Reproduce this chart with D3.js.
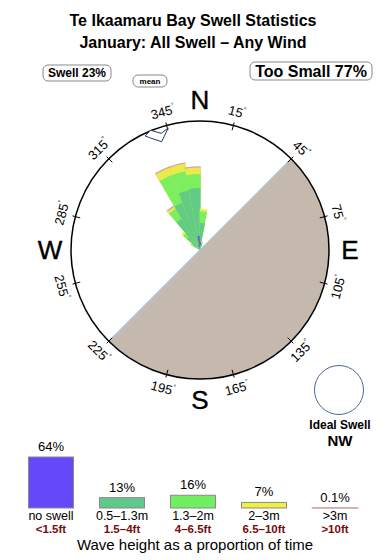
<!DOCTYPE html>
<html>
<head>
<meta charset="utf-8">
<script src="https://cdn.jsdelivr.net/npm/d3@7"></script>
<style>
  body { margin: 0; background: #fff; }
  svg { font-family: "Liberation Sans", Arial, Helvetica, sans-serif; }
</style>
</head>
<body>
<div id="chart"></div>
<script>
// rose sectors (centre direction, degrees)
const directions = [305, 315, 325, 335, 345, 355, 5, 15];
// percent of time per band, per direction
const noSwell = [0, 0, 0, 0, 0.4, 1.1, 0.6, 0];
const band1 = [0.6, 1.3, 2.8, 3.9, 4.3, 3.7, 1.5, 0.4];   // 0.5-1.3m
const band2 = [0.2, 0.4, 0.9, 2.3, 1.5, 1.1, 0.9, 0.2];   // 1.3-2m
const band3 = [0.1, 0.2, 0.2, 0.6, 0.6, 0.5, 0.2, 0.1];   // 2-3m
const band4 = [0, 0, 0.1, 0.1, 0.1, 0.1, 0, 0];           // >3m

const tickAngles = [15, 45, 75, 105, 135, 165, 195, 225, 255, 285, 315, 345];
const compass = ['N', 'E', 'S', 'W'];
const compassAngles = [0, 90, 180, 270];

const legendLabels = ['no swell', '0.5\u20131.3m', '1.3\u20132m', '2\u20133m', '>3m'];
const legendFeet = ['<1.5ft', '1.5\u20134ft', '4\u20136.5ft', '6.5\u201310ft', '>10ft'];
const legendPct = [64, 13, 16, 7, 0.1];
const legendText = ['64%', '13%', '16%', '7%', '0.1%'];

const colors = ['#6548fa', '#5fc88a', '#70f060', '#f0f040', '#c9a0a0'];

const W = 390, H = 560;
const cx = 200, cy = 250, R = 129;
const rad = d => d * Math.PI / 180;
const px = (a, r) => cx + r * Math.sin(rad(a));
const py = (a, r) => cy - r * Math.cos(rad(a));

const svg = d3.select('#chart').append('svg')
  .attr('width', W)
  .attr('height', H);

// titles
svg.append('text')
  .attr('x', 193).attr('y', 26)
  .attr('text-anchor', 'middle')
  .attr('font-size', 16).attr('font-weight', 'bold')
  .text('Te Ikaamaru Bay Swell Statistics');
svg.append('text')
  .attr('x', 193).attr('y', 48)
  .attr('text-anchor', 'middle')
  .attr('font-size', 16).attr('font-weight', 'bold')
  .text('January: All Swell \u2013 Any Wind');

// boxed labels
const boxes = [
  { x: 43, y: 65, w: 68, h: 16, size: 12, text: 'Swell 23%' },
  { x: 133, y: 75, w: 34, h: 12, size: 8, text: 'mean' },
  { x: 250, y: 62, w: 122, h: 18, size: 16, text: 'Too Small 77%' },
];
boxes.forEach((b) => {
  svg.append('rect')
    .attr('x', b.x).attr('y', b.y)
    .attr('width', b.w).attr('height', b.h)
    .attr('rx', 5)
    .attr('fill', '#fff')
    .attr('stroke', '#888');
  svg.append('text')
    .attr('x', b.x + b.w / 2).attr('y', b.y + b.h / 2)
    .attr('dy', '0.35em')
    .attr('text-anchor', 'middle')
    .attr('font-size', b.size).attr('font-weight', 'bold')
    .text(b.text);
});

// land half (45 -> 225 through east/south)
const gC = svg.append('g').attr('transform', `translate(${cx},${cy})`);
gC.append('path')
  .attr('d', d3.arc()({ innerRadius: 0, outerRadius: R, startAngle: rad(45), endAngle: rad(225) }))
  .attr('fill', '#c5b9ad');
gC.append('line')
  .attr('x1', R * Math.sin(rad(45))).attr('y1', -R * Math.cos(rad(45)))
  .attr('x2', R * Math.sin(rad(225))).attr('y2', -R * Math.cos(rad(225)))
  .attr('stroke', '#a8c8e6').attr('stroke-width', 1.2);

// rose wedges
const rScale = d3.scaleLinear().domain([0, 10]).range([0, R]);
const bands = [noSwell, band1, band2, band3, band4];
const arc = d3.arc();
directions.forEach((d, i) => {
  let cum = 0;
  const segs = bands.map((b, k) => {
    const s = { k, r0: cum, r1: cum + b[i] };
    cum += b[i];
    return s;
  }).filter(s => s.r1 > s.r0);
  // outer bands first so inner ones sit on top
  segs.slice().reverse().forEach((s) => {
    gC.append('path')
      .attr('d', arc({
        innerRadius: 0,
        outerRadius: rScale(s.r1),
        startAngle: rad(d - 5.5),
        endAngle: rad(d + 5.5),
      }))
      .attr('fill', colors[s.k])
      .attr('fill-opacity', 0.9);
  });
});

// outer circle
gC.append('circle')
  .attr('r', R)
  .attr('fill', 'none')
  .attr('stroke', '#000')
  .attr('stroke-width', 1.5);

// ticks and degree labels
tickAngles.forEach((a) => {
  gC.append('line')
    .attr('x1', (R - 5) * Math.sin(rad(a))).attr('y1', -(R - 5) * Math.cos(rad(a)))
    .attr('x2', (R + 3) * Math.sin(rad(a))).attr('y2', -(R + 3) * Math.cos(rad(a)))
    .attr('stroke', '#000');
  let rot = a > 90 && a < 270 ? a - 180 : a;
  if (rot > 180) rot -= 360;
  const t = svg.append('text')
    .attr('transform', `translate(${px(a, 143)},${py(a, 143)}) rotate(${rot})`)
    .attr('text-anchor', 'middle')
    .attr('dy', '0.35em')
    .attr('font-size', 13);
  t.append('tspan').text(a);
  t.append('tspan').attr('font-size', 7).attr('dy', '-0.9em').text('\u00b0');
});

// compass letters
compass.forEach((c, i) => {
  const a = compassAngles[i];
  svg.append('text')
    .attr('x', px(a, 150)).attr('y', py(a, 150))
    .attr('dy', '0.36em')
    .attr('text-anchor', 'middle')
    .attr('font-size', 26)
    .attr('stroke', '#000').attr('stroke-width', 0.4)
    .text(c);
});

// mean direction marker
const meanShape = [[334.3, 126.5], [337.6, 129.6], [341.6, 122.9], [345.4, 126.1], [340.5, 114.9], [335.8, 123.2]];
svg.append('path')
  .attr('d', d3.line()(meanShape.map(p => [px(p[0], p[1]), py(p[0], p[1])])) + 'Z')
  .attr('fill', '#fff')
  .attr('stroke', '#1c3a6a')
  .attr('stroke-width', 1);

// ideal swell
svg.append('circle')
  .attr('cx', 339).attr('cy', 390).attr('r', 24.5)
  .attr('fill', 'none')
  .attr('stroke', '#4a6890');
svg.append('text')
  .attr('x', 340).attr('y', 429)
  .attr('text-anchor', 'middle')
  .attr('font-size', 12).attr('font-weight', 'bold')
  .text('Ideal Swell');
svg.append('text')
  .attr('x', 340).attr('y', 446)
  .attr('text-anchor', 'middle')
  .attr('font-size', 15).attr('font-weight', 'bold')
  .text('NW');

// legend bars
const xB = d3.scaleBand().domain(legendLabels).range([15.5, 370.5]).paddingInner(0.366).paddingOuter(0.183);
const hB = d3.scaleLinear().domain([0, 64]).range([0, 51]);
const base = 508;
const gLeg = svg.append('g');
legendLabels.forEach((l, i) => {
  const h = hB(legendPct[i]);
  const x = xB(l);
  const cxL = x + xB.bandwidth() / 2;
  gLeg.append('rect')
    .attr('x', x).attr('y', base - h)
    .attr('width', xB.bandwidth()).attr('height', h)
    .attr('fill', colors[i])
    .attr('stroke', i === 4 ? colors[i] : '#8a8a8a')
    .attr('stroke-width', i === 4 ? 1.5 : 1);
  gLeg.append('text')
    .attr('x', cxL).attr('y', base - h - 6)
    .attr('text-anchor', 'middle')
    .attr('font-size', 13)
    .text(legendText[i]);
  gLeg.append('text')
    .attr('x', cxL).attr('y', 520)
    .attr('text-anchor', 'middle')
    .attr('font-size', 12.5)
    .text(l);
  gLeg.append('text')
    .attr('x', cxL).attr('y', 533)
    .attr('text-anchor', 'middle')
    .attr('font-size', 11.5).attr('font-weight', 'bold')
    .attr('fill', '#7a0a0a')
    .text(legendFeet[i]);
});
svg.append('text')
  .attr('x', 195).attr('y', 550)
  .attr('text-anchor', 'middle')
  .attr('font-size', 15)
  .text('Wave height as a proportion of time');
</script>
</body>
</html>
